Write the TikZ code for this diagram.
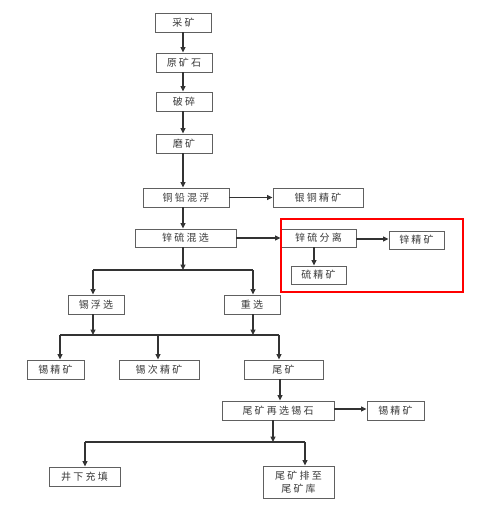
\documentclass[tikz,border=0pt]{standalone}
\usepackage{fontspec}
\setmainfont{Noto Sans CJK SC}[LetterSpace=22]
\usetikzlibrary{arrows.meta}
\definecolor{txt}{HTML}{3A3A3A}
\definecolor{ln}{HTML}{333333}
\definecolor{bx}{HTML}{606060}
\tikzset{
  bbox/.style={draw=bx, line width=0.9pt, rectangle, inner sep=0pt, text=txt,
    font=\fontsize{10}{12.5}\selectfont, align=center},
  arr/.style={draw=ln, line width=1.1pt, -{Triangle[length=5.5pt,width=5pt]}},
  lin/.style={draw=ln, line width=1.1pt},
}
\begin{document}
\begin{tikzpicture}[x=1pt,y=-1pt]
\useasboundingbox (0,0) rectangle (480,521);
\fill[white] (0,0) rectangle (480,521);
\node[bbox, minimum width=56pt, minimum height=19pt] (cai) at (183.5,22.5) {采矿};
\node[bbox, minimum width=56pt, minimum height=19pt] (yuan) at (184,62.5) {原矿石};
\node[bbox, minimum width=56pt, minimum height=19pt] (po) at (184,101.5) {破碎};
\node[bbox, minimum width=56pt, minimum height=19pt] (mo) at (184,143.5) {磨矿};
\node[bbox, minimum width=86pt, minimum height=19pt] (tq) at (186,197.5) {铜铅混浮};
\node[bbox, minimum width=90pt, minimum height=19pt] (yt) at (318,197.5) {银铜精矿};
\node[bbox, minimum width=101pt, minimum height=18pt] (xl) at (185.5,238) {锌硫混选};
\node[bbox, minimum width=75pt, minimum height=18pt] (xlfl) at (318.5,238) {锌硫分离};
\node[bbox, minimum width=55pt, minimum height=18pt] (xjk) at (416.5,240) {锌精矿};
\node[bbox, minimum width=55pt, minimum height=18pt] (ljk) at (318.5,275) {硫精矿};
\node[bbox, minimum width=56pt, minimum height=19pt] (xfx) at (96,304.5) {锡浮选};
\node[bbox, minimum width=56pt, minimum height=19pt] (zx) at (252,304.5) {重选};
\node[bbox, minimum width=57pt, minimum height=19pt] (xj1) at (55.5,369.5) {锡精矿};
\node[bbox, minimum width=80pt, minimum height=19pt] (xcj) at (159,369.5) {锡次精矿};
\node[bbox, minimum width=79pt, minimum height=19pt] (wk) at (283.5,369.5) {尾矿};
\node[bbox, minimum width=112pt, minimum height=19pt] (wkz) at (278,410.5) {尾矿再选锡石};
\node[bbox, minimum width=57pt, minimum height=19pt] (xj2) at (395.5,410.5) {锡精矿};
\node[bbox, minimum width=71pt, minimum height=19pt] (jx) at (84.5,476.5) {井下充填};
\node[bbox, minimum width=71pt, minimum height=32pt] (wkp) at (298.5,482) {尾矿排至\\尾矿库};
% red highlight
\draw[red, line width=2pt] (281,219) rectangle (463,292);
% main chain
\coordinate (c1) at (183,0);
\draw[arr] (cai.south -| c1) -- (yuan.north -| c1);
\draw[arr] (yuan.south -| c1) -- (po.north -| c1);
\draw[arr] (po.south -| c1) -- (mo.north -| c1);
\draw[arr] (mo.south -| c1) -- (tq.north -| c1);
\draw[arr] (tq.east) -- (tq.east -| yt.west);
\draw[arr] (tq.south -| c1) -- (xl.north -| c1);
\draw[arr] (xl.east) -- (xlfl.west);
\coordinate (r1) at (0,239);
\draw[arr] (xlfl.east |- r1) -- (xjk.west |- r1);
\coordinate (c2) at (314,0);
\draw[arr] (xlfl.south -| c2) -- (ljk.north -| c2);
% split 1
\coordinate (j1) at (183,270);
\coordinate (j1l) at (93,270);
\coordinate (j1r) at (253,270);
\draw[arr] (xl.south -| j1) -- (j1);
\draw[lin] (j1l) -- (j1r);
\draw[arr] (j1l) -- (xfx.north -| j1l);
\draw[arr] (j1r) -- (zx.north -| j1r);
% split 2
\coordinate (j2a) at (93,335);
\coordinate (j2b) at (253,335);
\coordinate (j2l) at (60,335);
\coordinate (j2m) at (158,335);
\coordinate (j2r) at (279,335);
\draw[arr] (xfx.south -| j2a) -- (j2a);
\draw[arr] (zx.south -| j2b) -- (j2b);
\draw[lin] (j2l) -- (j2r);
\draw[arr] (j2l) -- (xj1.north -| j2l);
\draw[arr] (j2m) -- (xcj.north -| j2m);
\draw[arr] (j2r) -- (wk.north -| j2r);
\coordinate (c3) at (280,0);
\draw[arr] (wk.south -| c3) -- (wkz.north -| c3);
\coordinate (r2) at (0,409);
\draw[arr] (wkz.east |- r2) -- (xj2.west |- r2);
% split 3
\coordinate (j3) at (273,442);
\coordinate (j3l) at (85,442);
\coordinate (j3r) at (305,442);
\draw[arr] (wkz.south -| j3) -- (j3);
\draw[lin] (j3l) -- (j3r);
\draw[arr] (j3l) -- (jx.north -| j3l);
\draw[arr] (j3r) -- (wkp.north -| j3r);
\end{tikzpicture}
\end{document}
